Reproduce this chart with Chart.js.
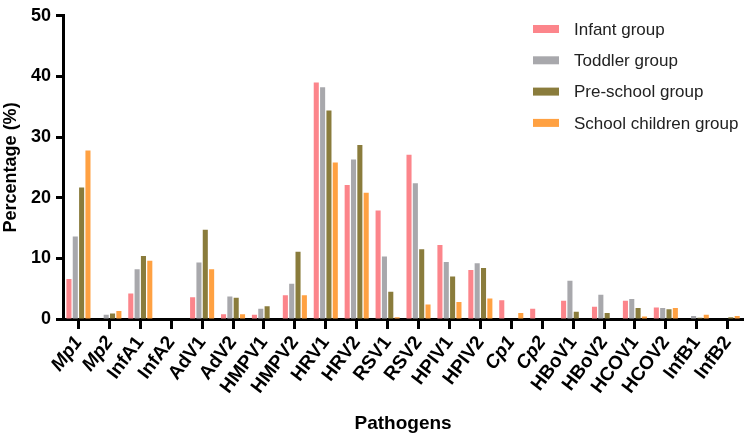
<!DOCTYPE html>
<html>
<head>
<meta charset="utf-8">
<script src="https://cdn.jsdelivr.net/npm/chart.js@4/dist/chart.umd.min.js"></script>
<style>
  html, body { margin: 0; padding: 0; background: #fff; }
  #wrap { width: 749px; height: 435px; position: relative; }
</style>
</head>
<body>
<div id="wrap"><canvas id="chart" width="749" height="435"></canvas></div>
<script>
// Categories (pathogens)
const pathogens = ["Mp1", "Mp2", "InfA1", "InfA2", "AdV1", "AdV2", "HMPV1", "HMPV2", "HRV1", "HRV2",
    "RSV1", "RSV2", "HPIV1", "HPIV2", "Cp1", "Cp2", "HBoV1", "HBoV2", "HCOV1", "HCOV2", "InfB1", "InfB2"];

// Names shown in italic on the x axis
const italicLabels = ["Mp1", "Mp2", "Cp1", "Cp2"];

// Percentage (%) per age group
const infant = [6.6, 0.1, 4.2, 0, 3.6, 0.8, 0.7, 3.9, 39.0, 22.1, 17.9, 27.1, 12.2, 8.1, 3.1, 1.7, 3.0, 2.0, 3.0, 1.9, 0, 0];
const toddler = [13.6, 0.7, 8.2, 0, 9.3, 3.7, 1.7, 5.8, 38.2, 26.3, 10.3, 22.4, 9.4, 9.2, 0, 0, 6.3, 4.0, 3.3, 1.8, 0.5, 0];
const preschool = [21.7, 0.9, 10.4, 0, 14.7, 3.5, 2.1, 11.1, 34.4, 28.7, 4.5, 11.5, 7.0, 8.4, 0, 0, 1.2, 1.0, 1.8, 1.6, 0.2, 0.3];
const school = [27.8, 1.3, 9.6, 0, 8.2, 0.8, 0, 3.9, 25.8, 20.8, 0.3, 2.4, 2.8, 3.4, 1.0, 0, 0, 0, 0.4, 1.8, 0.7, 0.5];

const groupNames = ["Infant group", "Toddler group", "Pre-school group", "School children group"];
const groupColors = ["#FC858B", "#A8A8AC", "#8A7C3C", "#FFA142"];

const FONT = "'Liberation Sans', Arial, sans-serif";

// Simple legend drawn in the upper right of the chart
const cornerLegend = {
    id: "cornerLegend",
    afterDraw(chart) {
        const ctx = chart.ctx;
        ctx.save();
        ctx.font = "17px " + FONT;
        ctx.textBaseline = "middle";
        chart.data.datasets.forEach((ds, i) => {
            const y = 29 + i * 31.3;
            ctx.fillStyle = ds.backgroundColor;
            ctx.fillRect(533, y - 4, 26, 8);
            ctx.fillStyle = "#222";
            ctx.fillText(ds.label, 574, y + 1);
        });
        ctx.restore();
    },
};

const allSeries = [infant, toddler, preschool, school];

new Chart(document.getElementById("chart"), {
    type: "bar",
    plugins: [cornerLegend],
    data: {
        labels: pathogens,
        datasets: allSeries.map((vals, i) => ({
            label: groupNames[i],
            data: vals,
            backgroundColor: groupColors[i],
            categoryPercentage: 0.82,
            barPercentage: 0.8,
        })),
    },
    options: {
        responsive: false,
        animation: false,
        layout: { padding: { top: 2, right: 5, bottom: 0, left: 0 } },
        plugins: {
            legend: { display: false },
            tooltip: { enabled: false },
        },
        scales: {
            x: {
                afterFit: (scale) => { scale.height = 435 - 319; },
                grid: {
                    offset: false,
                    drawOnChartArea: false,
                    drawTicks: true,
                    tickLength: 10,
                    tickWidth: 3,
                    tickColor: "#000",
                },
                border: { display: true, color: "#000", width: 3 },
                ticks: {
                    color: "#000",
                    minRotation: 53,
                    maxRotation: 53,
                    autoSkip: false,
                    padding: 3,
                    font: (ctx) => ({
                        family: FONT,
                        size: 19,
                        weight: "bold",
                        style: italicLabels.includes(pathogens[ctx.index]) ? "italic" : "normal",
                    }),
                },
                title: {
                    display: true,
                    text: "Pathogens",
                    color: "#000",
                    font: { family: FONT, size: 19, weight: "bold" },
                    padding: { top: 4, bottom: 0 },
                },
            },
            y: {
                min: 0,
                max: 50,
                afterFit: (scale) => { scale.width = 63; },
                grid: {
                    drawOnChartArea: false,
                    drawTicks: true,
                    tickLength: 7,
                    tickWidth: 3,
                    tickColor: "#000",
                },
                border: { display: true, color: "#000", width: 3 },
                ticks: {
                    stepSize: 10,
                    color: "#000",
                    padding: 5,
                    font: { family: FONT, size: 18, weight: "bold" },
                },
                title: {
                    display: true,
                    text: "Percentage (%)",
                    color: "#000",
                    font: { family: FONT, size: 18, weight: "bold" },
                    padding: { top: 0, bottom: 2 },
                },
            },
        },
    },
});
</script>
</body>
</html>
